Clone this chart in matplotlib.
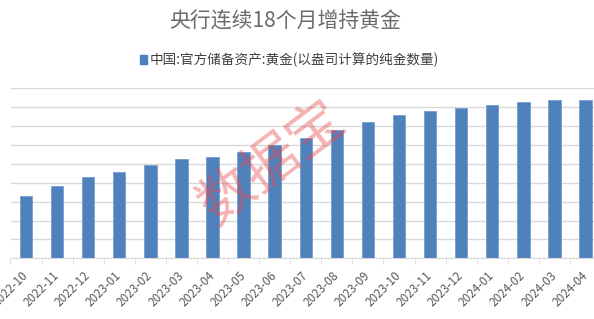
import matplotlib
matplotlib.use("Agg")
import matplotlib.pyplot as plt
import numpy as np
from matplotlib.patches import Patch

plt.rcParams['font.family'] = ['Noto Sans CJK SC', 'DejaVu Sans']

months = ["2022-10", "2022-11", "2022-12", "2023-01", "2023-02", "2023-03", "2023-04",
          "2023-05", "2023-06", "2023-07", "2023-08", "2023-09", "2023-10", "2023-11",
          "2023-12", "2024-01", "2024-02", "2024-03", "2024-04"]
# 万盎司
gold = [6264, 6367, 6464, 6512, 6592, 6650, 6676, 6727, 6795, 6869, 6962, 7046,
        7120, 7158, 7187, 7219, 7258, 7274, 7280]

title = "央行连续18个月增持黄金"
series_name = "中国:官方储备资产:黄金(以盎司计算的纯金数量)"

W, H = 594, 319
fig = plt.figure(figsize=(W / 100, H / 100), dpi=100)
left_px, right_px, bottom_px, top_px = 10.5, 601, 258.3, 88.3
ax = fig.add_axes([left_px / W, 1 - bottom_px / H, (right_px - left_px) / W, (bottom_px - top_px) / H])

x = np.arange(len(months))
bars = ax.bar(x, gold, width=0.4, color='#4F81BD', edgecolor='#6F96C8', linewidth=0.5, zorder=3)

ax.set_xlim(-0.5, len(months) - 0.5)
ax.set_ylim(5600, 7400)
ax.set_yticks(np.arange(5600, 7401, 200))
ax.yaxis.grid(True, color='#D9D9D9', linewidth=1)
ax.tick_params(axis='y', left=False, labelleft=False)
for s in ['top', 'left', 'right']:
    ax.spines[s].set_visible(False)
ax.spines['bottom'].set_color('#D9D9D9')
ax.spines['bottom'].set_zorder(4)

ax.set_xticks(x)
ax.set_xticklabels(months, rotation=45, ha='right', va='center', rotation_mode='anchor',
                   fontsize=8.5, color='#595959')
ax.tick_params(axis='x', length=0, pad=11)
ax.set_xticks(np.arange(-0.5, len(months), 1), minor=True)
ax.tick_params(axis='x', which='minor', length=4, color='#D9D9D9')

fig.text(285 / W, 1 - 21.5 / H, title, ha='center', va='center', fontsize=15, color='#6A6A6A')

handle = Patch(facecolor='#4F81BD', edgecolor='#4F81BD')
fig.legend([handle], [series_name], loc='center', bbox_to_anchor=(289.5 / W, 1 - 60 / H),
           frameon=False, fontsize=9.8, labelcolor='#404040', handlelength=0.55,
           handleheight=0.55, handletextpad=0.2, borderpad=0)

fig.text(272 / W, 1 - 163 / H, "数据宝", ha='center', va='center', fontsize=40,
         rotation=37, color='#E8484B', alpha=0.42, zorder=10)

fig.savefig("out.png", dpi=100)
